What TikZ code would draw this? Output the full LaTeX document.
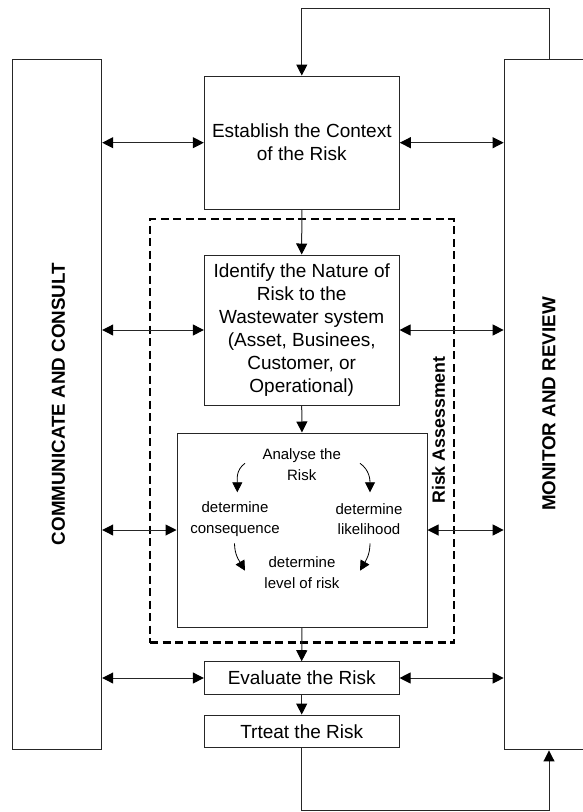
\documentclass[tikz,border=0pt]{standalone}
\usepackage{fontspec}
\setmainfont{Liberation Sans}
\usetikzlibrary{arrows.meta}

\begin{document}
\begin{tikzpicture}[x=1pt,y=-1pt,
  box/.style={draw=black!85, line width=1pt, inner sep=0pt, align=center},
  maintext/.style={font=\fontsize{19}{23}\selectfont},
  smalltext/.style={font=\fontsize{15}{20.5}\selectfont, align=center, inner sep=0pt},
  sidetext/.style={font=\fontsize{18.8}{22}\selectfont\bfseries, rotate=90, inner sep=0pt},
  link/.style={draw=black!85, line width=1pt, -{Triangle[length=11pt,width=11pt,color=black]}},
  dlink/.style={draw=black!85, line width=1pt,
    {Triangle[length=11pt,width=11pt,color=black]}-{Triangle[length=11pt,width=11pt,color=black]}},
  curl/.style={draw=black, line width=0.8pt, -{Triangle[length=10pt,width=10pt]}},
  phase/.style={draw=black, line width=2.2pt, dash pattern=on 8pt off 4.5pt},
]
\useasboundingbox (0,0) rectangle (583,812);
\clip (0,0) rectangle (583,812);

% side columns
\node[box, minimum width=89pt, minimum height=690pt] (cc) at (57.2,404.3) {};
\node[box, minimum width=89.7pt, minimum height=690.7pt] (mr) at (549,404.6) {};
\node[sidetext] (cclabel) at (58.5,404) {COMMUNICATE AND CONSULT};
\node[sidetext] (mrlabel) at (549,404) {MONITOR AND REVIEW};

% risk assessment frame
\node[phase, minimum width=304pt, minimum height=423.2pt, inner sep=0pt] (ra) at (302,430.9) {};
\node[font=\fontsize{17.8}{21}\selectfont\bfseries, rotate=90, inner sep=0pt] (ralabel) at (438.5,430) {Risk Assessment};

% process steps
\node[box, maintext, minimum width=195pt, minimum height=133.3pt] (est) at (301.8,142.7)
  {Establish the Context\\of the Risk};
\node[box, maintext, minimum width=194.7pt, minimum height=150pt] (idf) at (301.7,330)
  {Identify the Nature of\\Risk to the\\Wastewater system\\(Asset, Businees,\\Customer, or\\Operational)};
\node[box, minimum width=250pt, minimum height=194pt] (ana) at (302,530) {};
\node[box, maintext, minimum width=194.7pt, minimum height=32.6pt] (eva) at (301.7,678) {Evaluate the Risk};
\node[box, maintext, minimum width=194.7pt, minimum height=32.7pt] (trt) at (301.7,731.4) {Trteat the Risk};

% analysis contents
\node[smalltext] (an) at (301.7,464.5) {Analyse the\\Risk};
\node[smalltext] (cons) at (235,519) {determine\\consequence};
\node[smalltext] (like) at (369,519) {determine\\likelihood};
\node[smalltext] (lvl) at (302,572.5) {determine\\level of risk};

\coordinate (c1s) at (245,463.3);  \coordinate (c1e) at (237.3,492.3);
\coordinate (c2s) at (360,463.3);  \coordinate (c2e) at (370,492.3);
\coordinate (c3s) at (234.5,543.3); \coordinate (c3e) at (245,570.7);
\coordinate (c4s) at (370,543.3);  \coordinate (c4e) at (360,570.7);
\draw[curl] (c1s) to[out=215,in=90] (c1e);
\draw[curl] (c2s) to[out=-35,in=90] (c2e);
\draw[curl] (c3s) to[out=270,in=120] (c3e);
\draw[curl] (c4s) to[out=270,in=60] (c4e);

% main flow
\draw[link] (est.south) -- (idf.north);
\draw[link] (idf.south) -- (ana.north);
\draw[link] (ana.south) -- (eva.north);
\draw[link] (eva.south) -- (trt.north);

% exchanges with the side columns
\draw[dlink] (cc.east |- est.west) -- (est.west);
\draw[dlink] (est.east) -- (est.east -| mr.west);
\draw[dlink] (cc.east |- idf.west) -- (idf.west);
\draw[dlink] (idf.east) -- (idf.east -| mr.west);
\draw[dlink] (cc.east |- ana.west) -- (ana.west);
\draw[dlink] (ana.east) -- (ana.east -| mr.west);
\draw[dlink] (cc.east |- eva.west) -- (eva.west);
\draw[dlink] (eva.east) -- (eva.east -| mr.west);

% feedback loops
\coordinate (toprow) at (0,8.3);
\coordinate (botrow) at (0,810.7);
\draw[link] (mr.north) -- (mr.north |- toprow) -| (est.north);
\draw[link] (trt.south) -- (trt.south |- botrow) -| (mr.south);
\end{tikzpicture}
\end{document}
